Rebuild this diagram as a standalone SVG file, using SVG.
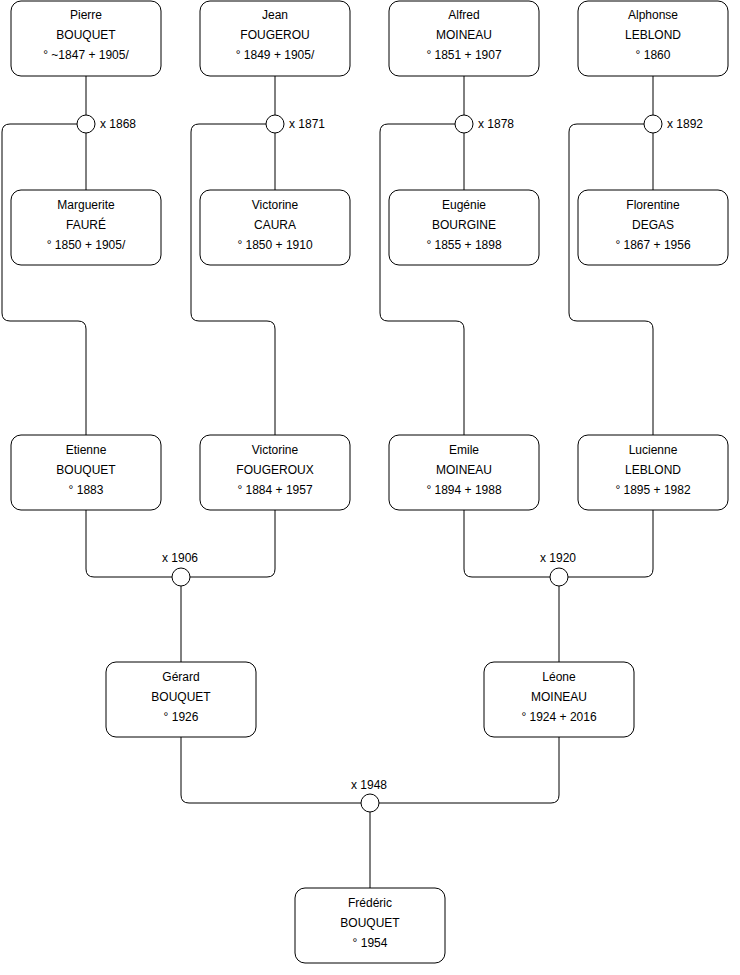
<svg xmlns="http://www.w3.org/2000/svg" width="740" height="975" viewBox="0 0 740 975">
<style>
.n{fill:#fff;stroke:#000;stroke-width:1}
.t{font-family:"Liberation Sans",Arial,sans-serif;font-size:12px;fill:#000;text-anchor:middle}
.l{font-family:"Liberation Sans",Arial,sans-serif;font-size:12px;fill:#000}
.c{fill:none;stroke:#000;stroke-width:1}
.m{fill:#fff;stroke:#000;stroke-width:1}
</style>
<rect width="740" height="975" fill="#fff"/>
<g id="connectors">
<path class="c" d="M86,76 V115 M86,133 V190"/>
<path class="c" d="M77,124 H10 Q2,124 2,132 V313 Q2,321 10,321 H78 Q86,321 86,329 V435"/>
<path class="c" d="M275,76 V115 M275,133 V190"/>
<path class="c" d="M266,124 H199 Q191,124 191,132 V313 Q191,321 199,321 H267 Q275,321 275,329 V435"/>
<path class="c" d="M464,76 V115 M464,133 V190"/>
<path class="c" d="M455,124 H388 Q380,124 380,132 V313 Q380,321 388,321 H456 Q464,321 464,329 V435"/>
<path class="c" d="M653,76 V115 M653,133 V190"/>
<path class="c" d="M644,124 H577 Q569,124 569,132 V313 Q569,321 577,321 H645 Q653,321 653,329 V435"/>
<path class="c" d="M86,510 V569 Q86,577 94,577 H172 M190,577 H267 Q275,577 275,569 V510"/>
<path class="c" d="M181,586 V662"/>
<path class="c" d="M464,510 V569 Q464,577 472,577 H550 M568,577 H645 Q653,577 653,569 V510"/>
<path class="c" d="M559,586 V662"/>
<path class="c" d="M181,737 V795 Q181,803 189,803 H361 M379,803 H551 Q559,803 559,795 V737"/>
<path class="c" d="M370,812 V888"/>
</g>
<g id="m1868"><circle class="m" cx="86" cy="124" r="9"/><text class="l" x="100" y="128">x 1868</text></g>
<g id="m1871"><circle class="m" cx="275" cy="124" r="9"/><text class="l" x="289" y="128">x 1871</text></g>
<g id="m1878"><circle class="m" cx="464" cy="124" r="9"/><text class="l" x="478" y="128">x 1878</text></g>
<g id="m1892"><circle class="m" cx="653" cy="124" r="9"/><text class="l" x="667" y="128">x 1892</text></g>
<g id="m1906"><circle class="m" cx="181" cy="577" r="9"/><text class="t" x="180" y="562">x 1906</text></g>
<g id="m1920"><circle class="m" cx="559" cy="577" r="9"/><text class="t" x="558" y="562">x 1920</text></g>
<g id="m1948"><circle class="m" cx="370" cy="803" r="9"/><text class="t" x="369" y="789">x 1948</text></g>
<g id="pierre"><rect class="n" x="11" y="1" width="150" height="75" rx="10"/><text class="t" x="86" y="19">Pierre</text><text class="t" x="86" y="39">BOUQUET</text><text class="t" x="86" y="59">° ~1847 + 1905/</text></g>
<g id="jean"><rect class="n" x="200" y="1" width="150" height="75" rx="10"/><text class="t" x="275" y="19">Jean</text><text class="t" x="275" y="39">FOUGEROU</text><text class="t" x="275" y="59">° 1849 + 1905/</text></g>
<g id="alfred"><rect class="n" x="389" y="1" width="150" height="75" rx="10"/><text class="t" x="464" y="19">Alfred</text><text class="t" x="464" y="39">MOINEAU</text><text class="t" x="464" y="59">° 1851 + 1907</text></g>
<g id="alphonse"><rect class="n" x="578" y="1" width="150" height="75" rx="10"/><text class="t" x="653" y="19">Alphonse</text><text class="t" x="653" y="39">LEBLOND</text><text class="t" x="653" y="59">° 1860</text></g>
<g id="marguerite"><rect class="n" x="11" y="190" width="150" height="75" rx="10"/><text class="t" x="86" y="209">Marguerite</text><text class="t" x="86" y="229">FAURÉ</text><text class="t" x="86" y="249">° 1850 + 1905/</text></g>
<g id="victorine1"><rect class="n" x="200" y="190" width="150" height="75" rx="10"/><text class="t" x="275" y="209">Victorine</text><text class="t" x="275" y="229">CAURA</text><text class="t" x="275" y="249">° 1850 + 1910</text></g>
<g id="eugenie"><rect class="n" x="389" y="190" width="150" height="75" rx="10"/><text class="t" x="464" y="209">Eugénie</text><text class="t" x="464" y="229">BOURGINE</text><text class="t" x="464" y="249">° 1855 + 1898</text></g>
<g id="florentine"><rect class="n" x="578" y="190" width="150" height="75" rx="10"/><text class="t" x="653" y="209">Florentine</text><text class="t" x="653" y="229">DEGAS</text><text class="t" x="653" y="249">° 1867 + 1956</text></g>
<g id="etienne"><rect class="n" x="11" y="435" width="150" height="75" rx="10"/><text class="t" x="86" y="454">Etienne</text><text class="t" x="86" y="474">BOUQUET</text><text class="t" x="86" y="494">° 1883</text></g>
<g id="victorine2"><rect class="n" x="200" y="435" width="150" height="75" rx="10"/><text class="t" x="275" y="454">Victorine</text><text class="t" x="275" y="474">FOUGEROUX</text><text class="t" x="275" y="494">° 1884 + 1957</text></g>
<g id="emile"><rect class="n" x="389" y="435" width="150" height="75" rx="10"/><text class="t" x="464" y="454">Emile</text><text class="t" x="464" y="474">MOINEAU</text><text class="t" x="464" y="494">° 1894 + 1988</text></g>
<g id="lucienne"><rect class="n" x="578" y="435" width="150" height="75" rx="10"/><text class="t" x="653" y="454">Lucienne</text><text class="t" x="653" y="474">LEBLOND</text><text class="t" x="653" y="494">° 1895 + 1982</text></g>
<g id="gerard"><rect class="n" x="106" y="662" width="150" height="75" rx="10"/><text class="t" x="181" y="681">Gérard</text><text class="t" x="181" y="701">BOUQUET</text><text class="t" x="181" y="721">° 1926</text></g>
<g id="leone"><rect class="n" x="484" y="662" width="150" height="75" rx="10"/><text class="t" x="559" y="681">Léone</text><text class="t" x="559" y="701">MOINEAU</text><text class="t" x="559" y="721">° 1924 + 2016</text></g>
<g id="frederic"><rect class="n" x="295" y="888" width="150" height="75" rx="10"/><text class="t" x="370" y="907">Frédéric</text><text class="t" x="370" y="927">BOUQUET</text><text class="t" x="370" y="947">° 1954</text></g>
</svg>
